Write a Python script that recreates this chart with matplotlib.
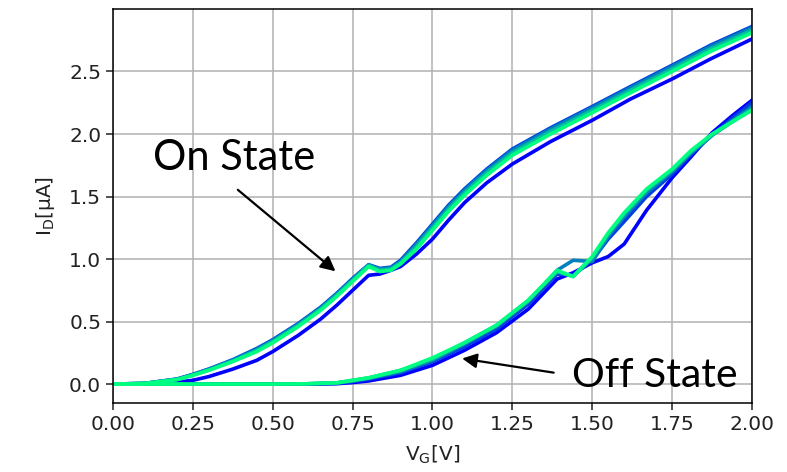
import numpy as np
import matplotlib.pyplot as plt

# gate voltage grids
vg_on = [0, 0.1, 0.2, 0.25, 0.3, 0.375, 0.45, 0.5, 0.58, 0.65, 0.7, 0.75, 0.8,
         0.835, 0.87, 0.9, 0.95, 1.0, 1.05, 1.1, 1.17, 1.25, 1.37, 1.5, 1.62, 1.75, 1.87, 2.0]
vg_off = [0, 0.5, 0.6, 0.7, 0.75, 0.8, 0.9, 1.0, 1.1, 1.2, 1.3, 1.39, 1.44,
          1.5, 1.55, 1.6, 1.67, 1.75, 1.81, 1.875, 1.94, 2.0]

# drain current [uA], one list per sweep (blue -> green)
on_0 = [0, 0.003, 0.015, 0.03, 0.06, 0.12, 0.19, 0.26, 0.39, 0.52, 0.63, 0.75, 0.87,
        0.88, 0.91, 0.94, 1.04, 1.16, 1.31, 1.45, 1.61, 1.76, 1.94, 2.11, 2.28, 2.44, 2.60, 2.76]
on_1 = [0, 0.006, 0.04, 0.078, 0.12, 0.195, 0.285, 0.355, 0.485, 0.615, 0.725, 0.845, 0.955,
        0.925, 0.935, 0.99, 1.13, 1.28, 1.43, 1.56, 1.72, 1.88, 2.05, 2.22, 2.38, 2.55, 2.71, 2.86]
on_2 = [0, 0.006, 0.04, 0.075, 0.12, 0.19, 0.28, 0.35, 0.48, 0.61, 0.72, 0.84, 0.95,
        0.92, 0.93, 0.98, 1.12, 1.27, 1.42, 1.55, 1.71, 1.87, 2.04, 2.21, 2.37, 2.54, 2.70, 2.85]
on_3 = [0, 0.005, 0.037, 0.072, 0.113, 0.185, 0.27, 0.34, 0.47, 0.60, 0.71, 0.83, 0.95,
        0.91, 0.92, 0.97, 1.10, 1.25, 1.40, 1.53, 1.69, 1.85, 2.02, 2.19, 2.35, 2.52, 2.68, 2.83]
on_4 = [0, 0.005, 0.035, 0.07, 0.11, 0.18, 0.26, 0.33, 0.46, 0.59, 0.70, 0.82, 0.94,
        0.90, 0.91, 0.96, 1.08, 1.23, 1.38, 1.51, 1.67, 1.83, 2.0, 2.17, 2.33, 2.50, 2.66, 2.81]

off_0 = [0, 0, 0, 0.003, 0.012, 0.025, 0.07, 0.15, 0.27, 0.41, 0.60, 0.84, 0.89,
         0.97, 1.02, 1.12, 1.39, 1.65, 1.82, 2.01, 2.15, 2.27]
off_1 = [0, 0, 0.001, 0.006, 0.02, 0.04, 0.09, 0.18, 0.30, 0.44, 0.64, 0.88, 0.87,
         0.99, 1.16, 1.30, 1.50, 1.68, 1.84, 1.99, 2.13, 2.25]
off_2 = [0, 0, 0.002, 0.008, 0.025, 0.045, 0.10, 0.19, 0.32, 0.46, 0.66, 0.91, 0.99,
         0.98, 1.18, 1.34, 1.53, 1.70, 1.85, 1.99, 2.11, 2.22]
off_3 = [0, 0, 0.002, 0.01, 0.03, 0.05, 0.11, 0.20, 0.33, 0.47, 0.67, 0.90, 0.86,
         1.01, 1.20, 1.36, 1.55, 1.71, 1.86, 1.99, 2.10, 2.20]
off_4 = [0, 0, 0.002, 0.01, 0.03, 0.05, 0.11, 0.21, 0.33, 0.47, 0.67, 0.91, 0.86,
         1.02, 1.21, 1.37, 1.56, 1.72, 1.87, 2.00, 2.10, 2.19]

on_curves = [on_0, on_1, on_2, on_3, on_4]
off_curves = [off_0, off_1, off_2, off_3, off_4]

xticks = [0.0, 0.25, 0.5, 0.75, 1.0, 1.25, 1.5, 1.75, 2.0]
yticks = [0.0, 0.5, 1.0, 1.5, 2.0, 2.5]

fig = plt.figure(figsize=(7.87, 4.72), dpi=100)
ax = fig.add_axes([0.1436, 0.146, 0.8119, 0.835])

colors = plt.cm.winter(np.linspace(0, 1, len(on_curves)))
for c, on, off in zip(colors, on_curves, off_curves):
    ax.plot(vg_on, on, color=c, lw=2.6, solid_joinstyle='round')
    ax.plot(vg_off, off, color=c, lw=2.6, solid_joinstyle='round')

ax.set_xlim(0, 2.0)
ax.set_ylim(-0.152, 3.0)
ax.set_xticks(xticks)
ax.set_yticks(yticks)
ax.set_xticklabels(['%.2f' % t for t in xticks])
ax.set_yticklabels(['%.1f' % t for t in yticks])
ax.grid(True, color='#b0b0b0', lw=1.1)
ax.set_axisbelow(True)
ax.tick_params(labelsize=14.5, length=5, width=1.1, colors='#222222')
for s in ax.spines.values():
    s.set_linewidth(1.1)

ax.set_xlabel(r'V$_\mathrm{G}$[V]', fontsize=14.5, color='#222222', labelpad=7)
ax.set_ylabel(r'I$_\mathrm{D}$[μA]', fontsize=14.5, color='#222222', labelpad=9)

# annotations
ax.text(0.125, 1.71, 'On State', fontsize=30, family='Lato', va='baseline')
ax.annotate('', xy=(0.703, 0.888), xytext=(0.384, 1.568),
            arrowprops=dict(arrowstyle='-|>', color='black', lw=1.6, mutation_scale=22))
ax.text(1.4375, -0.024, 'Off State', fontsize=29.5, family='Lato', va='baseline')
ax.annotate('', xy=(1.084, 0.208), xytext=(1.388, 0.088),
            arrowprops=dict(arrowstyle='-|>', color='black', lw=1.6, mutation_scale=22))

fig.savefig('out.png', dpi=100)
